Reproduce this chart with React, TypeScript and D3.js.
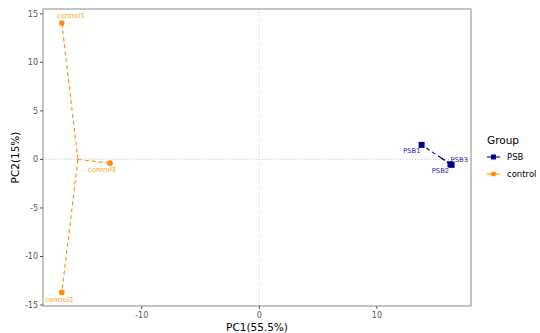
import * as d3 from "d3";

// PCA scores per sample
const samples = ["control1", "control2", "control3", "PSB1", "PSB2", "PSB3"];
const groups = ["control", "control", "control", "PSB", "PSB", "PSB"];
const pc1 = [-16.8, -16.8, -12.7, 13.8, 16.25, 16.35];
const pc2 = [14.05, -13.7, -0.38, 1.5, -0.5, -0.55];

const legendGroups = ["PSB", "control"];
const groupColors = ["#00008B", "#FF8C00"];
const xTicks = [-10, 0, 10];
const yTicks = [-15, -10, -5, 0, 5, 10, 15];

// label offsets (repel-style placement)
const labelDx = [9, -2.5, -8, -1, -10, -1];
const labelDy = [-5, 9.5, 8.5, 8.5, 8.5, -3];
const labelAnchor = ["middle", "middle", "middle", "end", "middle", "start"];

export default function App() {
  const width = 540;
  const height = 333;
  const margin = { top: 9, right: 69, bottom: 27, left: 43 };
  const innerW = width - margin.left - margin.right;
  const innerH = height - margin.top - margin.bottom;

  const x = d3.scaleLinear().domain([-18.4, 18.0]).range([0, innerW]);
  const y = d3.scaleLinear().domain([-15.1, 15.5]).range([innerH, 0]);
  const color = d3.scaleOrdinal<string, string>().domain(legendGroups).range(groupColors);
  const labelColor = d3.scaleOrdinal<string, string>().domain(legendGroups).range(["#2a2aa0", "#FF9a20"]);

  const centroids = legendGroups.map((g) => {
    const idx = groups.map((gg, i) => (gg === g ? i : -1)).filter((i) => i >= 0);
    return {
      group: g,
      cx: d3.mean(idx, (i) => pc1[i]) as number,
      cy: d3.mean(idx, (i) => pc2[i]) as number,
    };
  });

  const font = "DejaVu Sans, sans-serif";

  return (
    <svg
      width={width}
      height={height}
      style={{ position: "absolute", left: 0, top: 0, background: "#fff" }}
      fontFamily={font}
    >
      <g transform={`translate(${margin.left},${margin.top})`}>
        {/* reference lines */}
        <line x1={x(0)} x2={x(0)} y1={0} y2={innerH} stroke="#bdbdbd" strokeDasharray="1,2" strokeWidth={0.8} />
        <line x1={0} x2={innerW} y1={y(0)} y2={y(0)} stroke="#bdbdbd" strokeDasharray="1,2" strokeWidth={0.8} />

        {/* spider segments */}
        {samples.map((s, i) => {
          const c = centroids.find((cc) => cc.group === groups[i])!;
          return (
            <line
              key={"seg" + s}
              x1={x(c.cx)}
              y1={y(c.cy)}
              x2={x(pc1[i])}
              y2={y(pc2[i])}
              stroke={color(groups[i])}
              strokeWidth={1.1}
              strokeDasharray="4,3"
            />
          );
        })}

        {/* points */}
        {samples.map((s, i) =>
          groups[i] === "PSB" ? (
            <rect
              key={"pt" + s}
              x={x(pc1[i]) - 3}
              y={y(pc2[i]) - 3}
              width={6}
              height={6}
              fill={color(groups[i])}
            />
          ) : (
            <circle key={"pt" + s} cx={x(pc1[i])} cy={y(pc2[i])} r={2.8} fill={color(groups[i])} />
          )
        )}

        {/* labels */}
        {samples.map((s, i) => (
          <text
            key={"lb" + s}
            x={x(pc1[i]) + labelDx[i]}
            y={y(pc2[i]) + labelDy[i]}
            textAnchor={labelAnchor[i] as any}
            fontSize={6.8}
            fill={labelColor(groups[i])}
          >
            {s}
          </text>
        ))}

        {/* panel border */}
        <rect x={0} y={0} width={innerW} height={innerH} fill="none" stroke="#8a8a8a" strokeWidth={1} />

        {/* x axis */}
        {xTicks.map((t) => (
          <g key={"xt" + t} transform={`translate(${x(t)},${innerH})`}>
            <line y1={0} y2={3} stroke="#555" />
            <text y={12} textAnchor="middle" fontSize={8} fill="#555">
              {t}
            </text>
          </g>
        ))}
        {/* y axis */}
        {yTicks.map((t) => (
          <g key={"yt" + t} transform={`translate(0,${y(t)})`}>
            <line x1={-3} x2={0} stroke="#555" />
            <text x={-5} dy="0.35em" textAnchor="end" fontSize={8} fill="#555">
              {t}
            </text>
          </g>
        ))}

        <text x={innerW / 2} y={innerH + 25} textAnchor="middle" fontSize={10.5} fill="#000">
          PC1(55.5%)
        </text>
        <text
          transform={`translate(${-24},${innerH / 2}) rotate(-90)`}
          textAnchor="middle"
          fontSize={10.5}
          fill="#000"
        >
          PC2(15%)
        </text>
      </g>

      {/* legend */}
      <g transform="translate(487,0)">
        <text x={0} y={144} fontSize={10.5} fill="#000">
          Group
        </text>
        {legendGroups.map((g, i) => (
          <g key={"lg" + g} transform={`translate(0,${157 + i * 17})`}>
            <line x1={0} x2={13} stroke={color(g)} strokeWidth={1.1} />
            {g === "PSB" ? (
              <rect x={4} y={-2.5} width={5} height={5} fill={color(g)} />
            ) : (
              <circle cx={6.5} cy={0} r={2.5} fill={color(g)} />
            )}
            <text x={20} dy="0.35em" fontSize={8.5} fill="#000">
              {g}
            </text>
          </g>
        ))}
      </g>
    </svg>
  );
}
